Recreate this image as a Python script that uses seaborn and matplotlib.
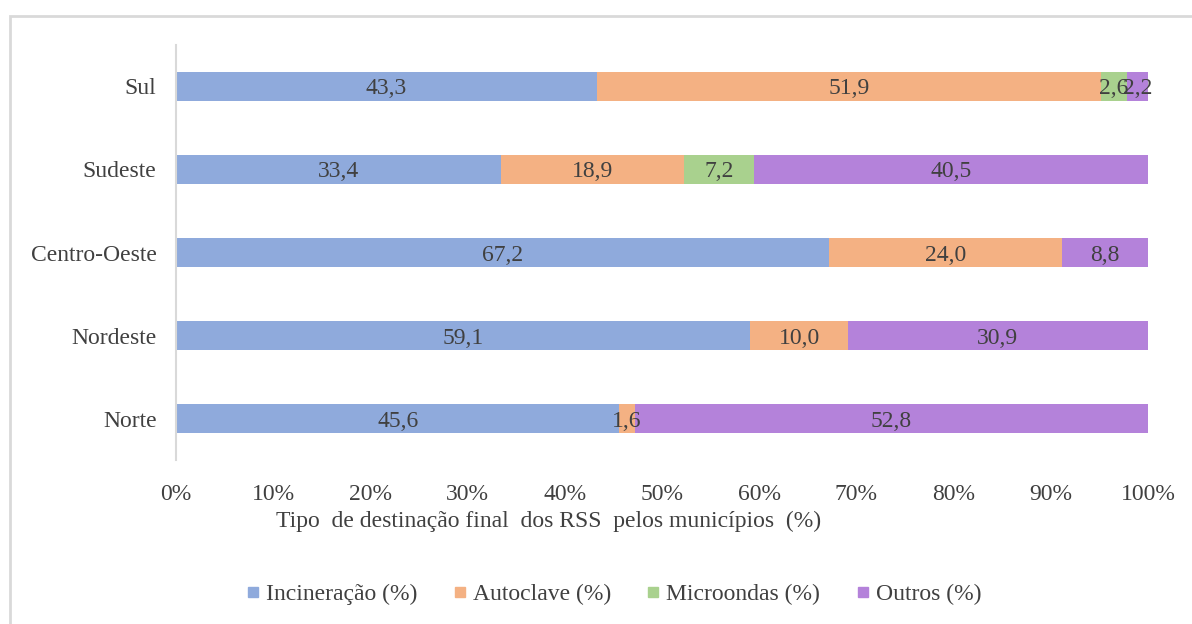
import matplotlib.pyplot as plt
import matplotlib.patches as mpatches
from matplotlib.lines import Line2D
import numpy as np
import pandas as pd
import seaborn as sns

# Data (percent of municipalities)
regioes = ['Sul', 'Sudeste', 'Centro-Oeste', 'Nordeste', 'Norte']
incineracao = [43.3, 33.4, 67.2, 59.1, 45.6]
autoclave = [51.9, 18.9, 24.0, 10.0, 1.6]
microondas = [2.6, 7.2, 0.0, 0.0, 0.0]
outros = [2.2, 40.5, 8.8, 30.9, 52.8]

series = ['Incineração (%)', 'Autoclave (%)', 'Microondas (%)', 'Outros (%)']
colors = ['#8faadc', '#f4b183', '#a9d18e', '#b482da']
txt = '#404040'
fs = 17

df = pd.DataFrame({'regiao': regioes, series[0]: incineracao, series[1]: autoclave,
                   series[2]: microondas, series[3]: outros})
cum = df[series].cumsum(axis=1)

sns.set_style('white')
plt.rcParams['font.family'] = ['Liberation Serif', 'DejaVu Serif']

fig = plt.figure(figsize=(11.92, 6.24), dpi=100)
ax = fig.add_axes([0.1477, 0.2628, 0.8154, 0.6651])

# stacked bars: draw cumulative totals from the last series back to the first
for s, c in reversed(list(zip(series, colors))):
    sns.barplot(data=cum.assign(regiao=df.regiao), x=s, y='regiao', order=regioes,
                color=c, width=0.34, orient='h', ax=ax, saturation=1, linewidth=0)

# value labels in the middle of each segment
for i, reg in enumerate(regioes):
    start = 0
    for s in series:
        v = df.loc[i, s]
        if v > 0:
            ax.text(start + v / 2, i, f'{v:.1f}'.replace('.', ','), ha='center',
                    va='center_baseline', fontsize=fs, color=txt)
        start += v

ax.set_xlim(0, 100)
ax.set_ylim(4.5, -0.5)
ax.set_xticks(np.arange(0, 101, 10))
ax.set_xticklabels([f'{t}%' for t in range(0, 101, 10)])
ax.set_xlabel('')
ax.set_ylabel('')
ax.tick_params(axis='x', length=0, pad=17, labelsize=fs, labelcolor=txt)
ax.tick_params(axis='y', length=0, pad=14, labelsize=fs, labelcolor=txt)
for side in ['top', 'right', 'bottom']:
    ax.spines[side].set_visible(False)
ax.spines['left'].set_color('#d9d9d9')
ax.spines['left'].set_linewidth(1.5)

fig.text(549 / 1192, 1 - 521 / 624, 'Tipo  de destinação final  dos RSS  pelos municípios  (%)',
         ha='center', va='center', fontsize=fs, color=txt)

handles = [Line2D([], [], marker='s', linestyle='', markersize=7, color=c) for c in colors]
fig.legend(handles, series, loc='center', bbox_to_anchor=(611 / 1192, 1 - 594 / 624), ncol=4,
           frameon=False, fontsize=fs, labelcolor=txt, handletextpad=0.05, columnspacing=1.3,
           handlelength=1.0)

# outer chart frame
fig.patches.append(mpatches.Rectangle((10 / 1192, -0.1), 1.2, 1 - 16 / 624 + 0.1,
                                      transform=fig.transFigure, fill=False,
                                      edgecolor='#d9d9d9', linewidth=2))

fig.savefig('out.png', dpi=100)
